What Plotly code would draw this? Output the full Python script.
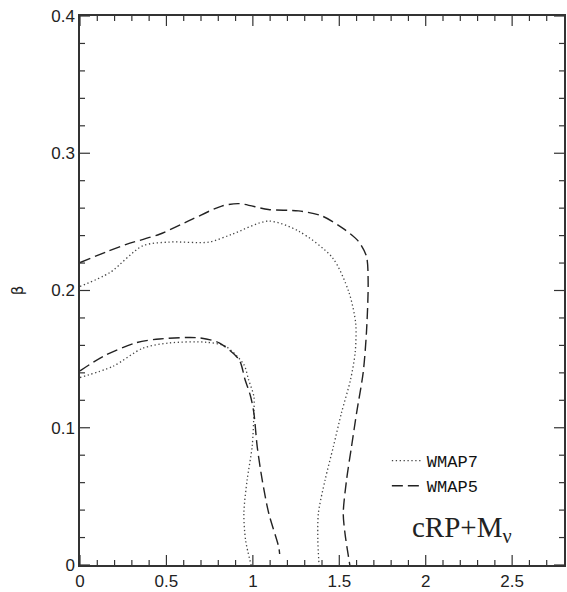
import plotly.graph_objects as go

# WMAP5 (dashed) contours
wmap5_outer_x = [0, 0.15, 0.268, 0.46, 0.65, 0.82, 0.92, 1.09, 1.264, 1.40, 1.53, 1.61, 1.657, 1.667, 1.657, 1.638, 1.60, 1.571, 1.542, 1.523, 1.533, 1.561]
wmap5_outer_y = [0.2204, 0.228, 0.2336, 0.241, 0.252, 0.2615, 0.2633, 0.259, 0.258, 0.2543, 0.2445, 0.236, 0.225, 0.2056, 0.169, 0.14, 0.1107, 0.0864, 0.062, 0.0377, 0.023, 0.0]
wmap5_inner_x = [0, 0.134, 0.326, 0.46, 0.69, 0.805, 0.92, 0.955, 0.987, 1.006, 1.025, 1.054, 1.092, 1.149, 1.155]
wmap5_inner_y = [0.1414, 0.152, 0.162, 0.1647, 0.1655, 0.1618, 0.1496, 0.135, 0.1228, 0.1107, 0.0864, 0.062, 0.0377, 0.0134, 0.008]

# WMAP7 (dotted) contours
wmap7_outer_x = [0, 0.172, 0.362, 0.517, 0.747, 0.88, 1.09, 1.264, 1.46, 1.555, 1.595, 1.592, 1.565, 1.513, 1.466, 1.418, 1.379, 1.376, 1.383]
wmap7_outer_y = [0.203, 0.213, 0.2325, 0.2353, 0.2353, 0.241, 0.2506, 0.2433, 0.224, 0.199, 0.176, 0.155, 0.135, 0.111, 0.0864, 0.062, 0.0377, 0.018, 0.0]
wmap7_inner_x = [0, 0.19, 0.364, 0.517, 0.728, 0.843, 0.948, 0.975, 1.006, 1.006, 0.996, 0.967, 0.948, 0.958, 0.99]
wmap7_inner_y = [0.1366, 0.1447, 0.158, 0.1618, 0.1623, 0.1593, 0.146, 0.135, 0.1228, 0.111, 0.0864, 0.062, 0.0377, 0.018, 0.0]

# axis ranges and tick positions
x_range = [0, 2.8]
y_range = [0, 0.4]
x_major = [0, 0.5, 1.0, 1.5, 2.0, 2.5]
x_minor = [round(0.1 * i, 1) for i in range(1, 28) if i % 5]
y_major = [0, 0.1, 0.2, 0.3, 0.4]
y_minor = [round(0.02 * i, 2) for i in range(1, 20) if i % 5]

dotted = dict(color="#444444", width=1.3, dash="1.3px,2.6px", shape="spline", smoothing=0.8)
dashed = dict(color="#222222", width=1.4, dash="11px,5px", shape="spline", smoothing=0.8)

fig = go.Figure()
fig.add_trace(go.Scatter(x=wmap7_outer_x, y=wmap7_outer_y, mode="lines", line=dotted, name="WMAP7", legendgroup="w7"))
fig.add_trace(go.Scatter(x=wmap7_inner_x, y=wmap7_inner_y, mode="lines", line=dotted, name="WMAP7", legendgroup="w7", showlegend=False))
fig.add_trace(go.Scatter(x=wmap5_outer_x, y=wmap5_outer_y, mode="lines", line=dashed, name="WMAP5", legendgroup="w5"))
fig.add_trace(go.Scatter(x=wmap5_inner_x, y=wmap5_inner_y, mode="lines", line=dashed, name="WMAP5", legendgroup="w5", showlegend=False))

tickfont = dict(family="Liberation Sans, Arial, sans-serif", size=17, color="#222222")

fig.update_layout(
    xaxis=dict(range=x_range, tickmode="array", tickvals=x_major,
               showline=True, linecolor="#333333", linewidth=1.5, mirror=True,
               ticks="", showgrid=False, zeroline=False, tickfont=tickfont),
    yaxis=dict(range=y_range, tickmode="array", tickvals=y_major,
               showline=True, linecolor="#333333", linewidth=1.5, mirror=True,
               ticks="", showgrid=False, zeroline=False, tickfont=tickfont,
               title=dict(text="β", font=dict(family="DejaVu Sans, sans-serif", size=15, color="#222222"), standoff=24)),
)

# inward tick marks on all four sides (pixel-length line shapes anchored to axis values)
tick_line = dict(color="#333333", width=1.2)
for vals, length in ((x_major, 10), (x_minor, 5)):
    for v in vals:
        fig.add_shape(type="line", xref="x", yref="y", ysizemode="pixel", yanchor=y_range[0],
                      x0=v, x1=v, y0=0, y1=length, line=tick_line)
        fig.add_shape(type="line", xref="x", yref="y", ysizemode="pixel", yanchor=y_range[1],
                      x0=v, x1=v, y0=0, y1=-length, line=tick_line)
for vals, length in ((y_major, 10), (y_minor, 5)):
    for v in vals:
        fig.add_shape(type="line", xref="x", yref="y", xsizemode="pixel", xanchor=x_range[0],
                      y0=v, y1=v, x0=0, x1=length, line=tick_line)
        fig.add_shape(type="line", xref="x", yref="y", xsizemode="pixel", xanchor=x_range[1],
                      y0=v, y1=v, x0=0, x1=-length, line=tick_line)

fig.add_annotation(x=2.21, y=0.026, xref="x", yref="y", text="cRP+M<sub>ν</sub>", showarrow=False,
                   font=dict(family="Liberation Serif, Times New Roman, serif", size=29, color="#222222"),
                   xanchor="center", yanchor="middle")

fig.update_layout(
    width=567, height=592,
    margin=dict(l=80, r=1, t=16, b=27),
    paper_bgcolor="white", plot_bgcolor="white",
    showlegend=True,
    legend=dict(x=0.634, y=0.222, xanchor="left", yanchor="top", bgcolor="rgba(0,0,0,0)",
                font=dict(family="Liberation Mono, Courier New, monospace", size=17, color="#111111"),
                itemwidth=30, tracegroupgap=0),
)

fig.write_html("out.html")
